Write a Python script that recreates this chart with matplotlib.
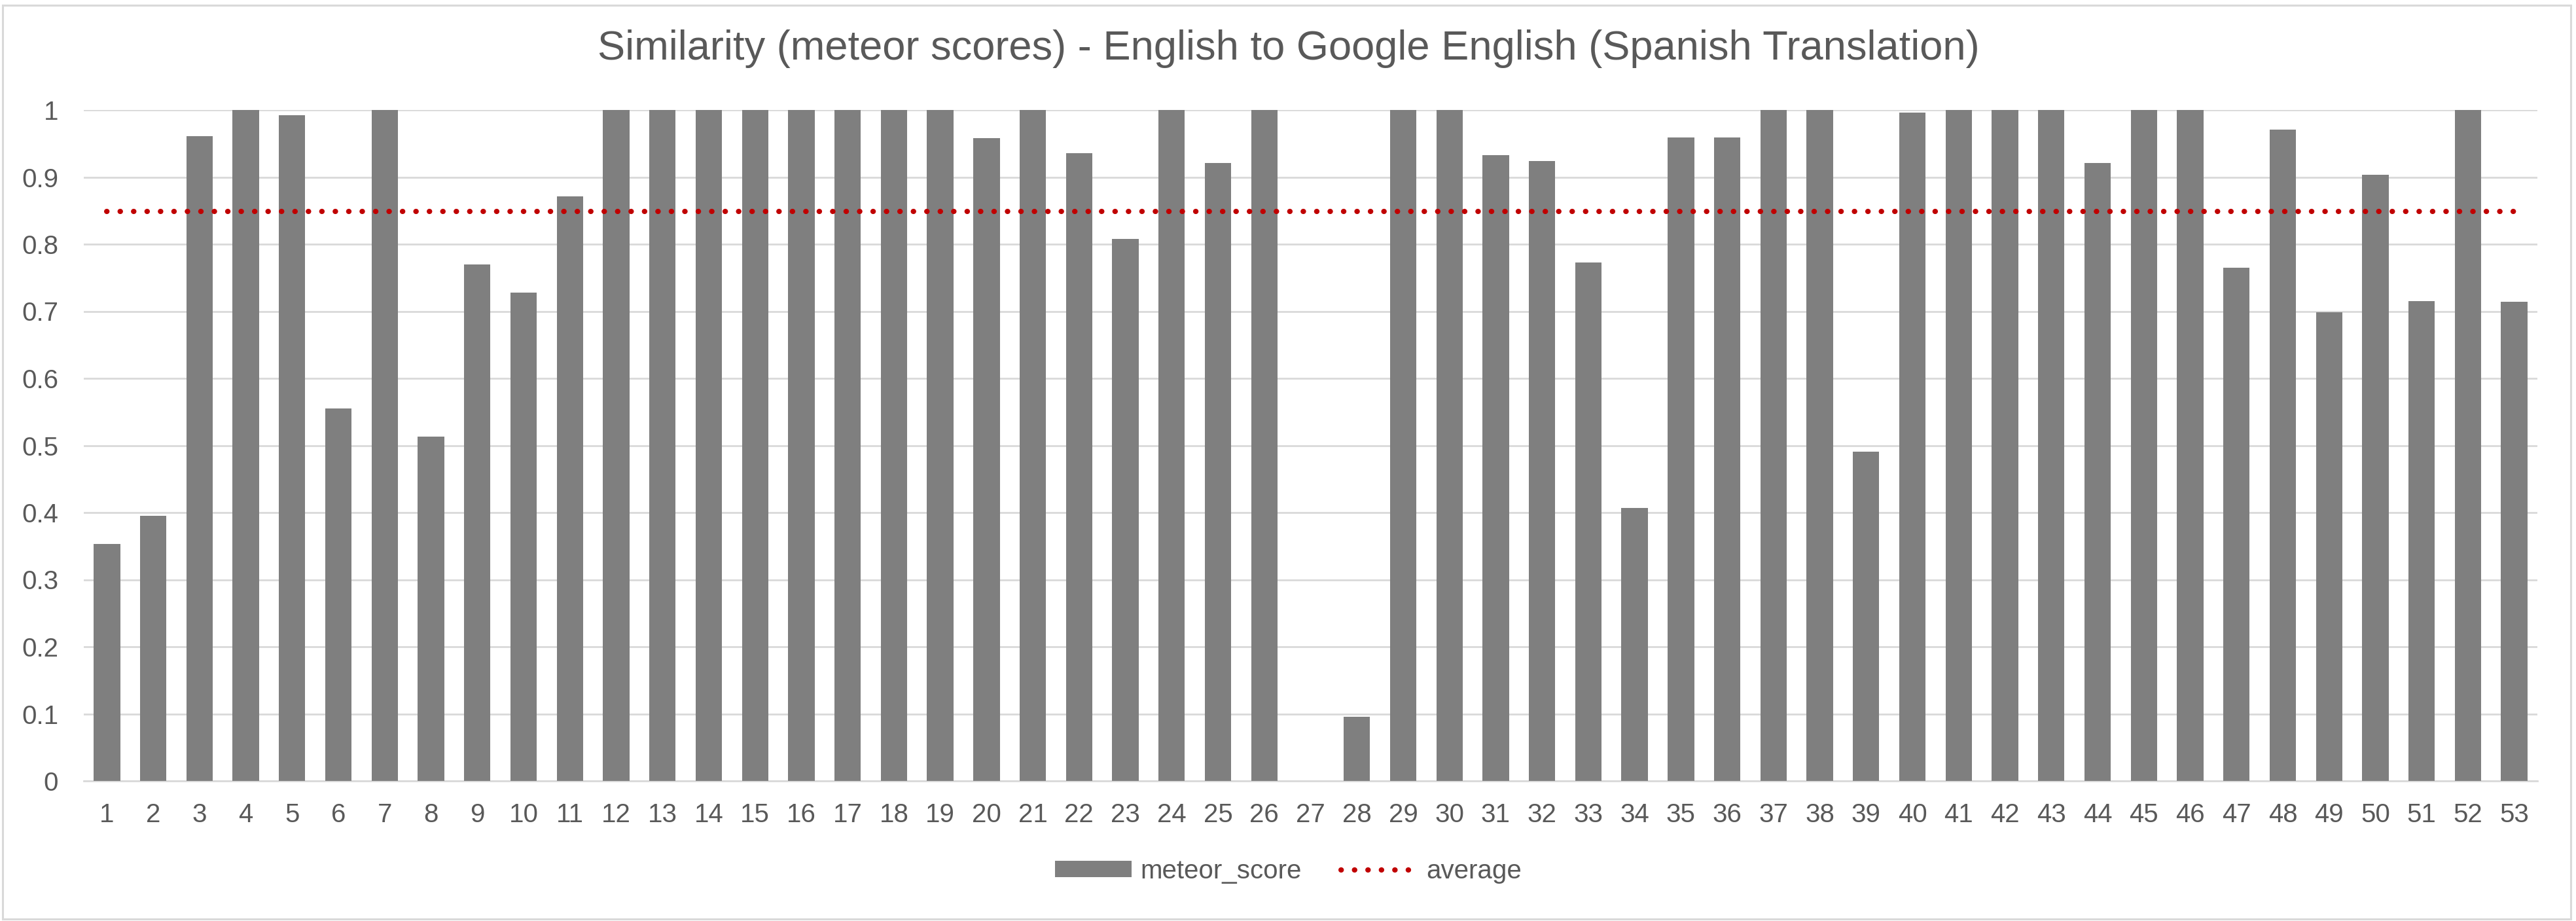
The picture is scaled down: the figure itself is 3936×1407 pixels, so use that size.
import numpy as np
import matplotlib
matplotlib.use('Agg')
import matplotlib.pyplot as plt
from matplotlib.patches import Rectangle

# meteor scores per sentence
sentence_ids = list(range(1, 54))
meteor_score = [
    0.353, 0.395, 0.961, 1.000, 0.992, 0.555, 1.000, 0.513, 0.770, 0.728,
    0.871, 1.000, 1.000, 1.000, 1.000, 1.000, 1.000, 1.000, 1.000, 0.958,
    1.000, 0.936, 0.808, 1.000, 0.921, 1.000, 0.000, 0.096, 1.000, 1.000,
    0.933, 0.924, 0.773, 0.407, 0.959, 0.959, 1.000, 1.000, 0.491, 0.996,
    1.000, 1.000, 1.000, 0.921, 1.000, 1.000, 0.765, 0.971, 0.699, 0.903,
    0.715, 1.000, 0.714,
]
average = [float(np.mean(meteor_score))] * len(meteor_score)
y_ticks = [0, 0.1, 0.2, 0.3, 0.4, 0.5, 0.6, 0.7, 0.8, 0.9, 1]

TITLE = 'Similarity (meteor scores) - English to Google English (Spanish Translation)'
TEXT = '#595959'
GRID = '#d9d9d9'
BAR = '#7f7f7f'
RED = '#c00000'

plt.rcParams['font.family'] = ['Liberation Sans', 'DejaVu Sans']

W, H = 3937, 1407
fig = plt.figure(figsize=(W / 100, H / 100), dpi=100, facecolor='white')

# outer chart border
fig.patches.append(Rectangle((4 / W, 3 / H), (3928 - 4) / W, (1399 - 3) / H,
                             transform=fig.transFigure, fill=False,
                             edgecolor=GRID, linewidth=2.2))

ax = fig.add_axes([128 / W, 1 - 1193 / H, (3877 - 128) / W, (1193 - 168) / H])
bars = ax.bar(sentence_ids, meteor_score, width=0.57, color=BAR, zorder=2,
              label='meteor_score')
avg_line, = ax.plot(sentence_ids, average, color=RED, linewidth=5.8,
                    linestyle=(0, (0.05, 2.5)), dash_capstyle='round',
                    zorder=3, label='average', clip_on=False)

ax.set_xlim(0.5, len(sentence_ids) + 0.5)
ax.set_ylim(0, 1)
ax.set_xticks(sentence_ids)
ax.set_xticklabels([str(i) for i in sentence_ids])
ax.set_yticks(y_ticks)
ax.set_yticklabels(['{:g}'.format(t) for t in y_ticks])
ax.tick_params(axis='both', length=0, labelsize=29, colors=TEXT)
ax.tick_params(axis='x', pad=24)
ax.tick_params(axis='y', pad=28)

ax.grid(axis='y', color=GRID, linewidth=2, zorder=0)
ax.set_axisbelow(True)
for s in ['top', 'right', 'left']:
    ax.spines[s].set_visible(False)
ax.spines['bottom'].set_color(GRID)
ax.spines['bottom'].set_linewidth(2)
ax.spines['bottom'].set_zorder(1)

fig.text(0.5, 1 - 74 / H, TITLE, ha='center', va='center',
         fontsize=45.5, color=TEXT)

leg = fig.legend(handles=[bars, avg_line], labels=['meteor_score', 'average'],
                 loc='center', bbox_to_anchor=(0.5, 1 - 1331 / H), ncol=2,
                 frameon=False, fontsize=29, handlelength=2.9,
                 handleheight=0.58, handletextpad=0.33, columnspacing=1.5)
for t in leg.get_texts():
    t.set_color(TEXT)

fig.savefig('out.png', dpi=100, facecolor='white')
